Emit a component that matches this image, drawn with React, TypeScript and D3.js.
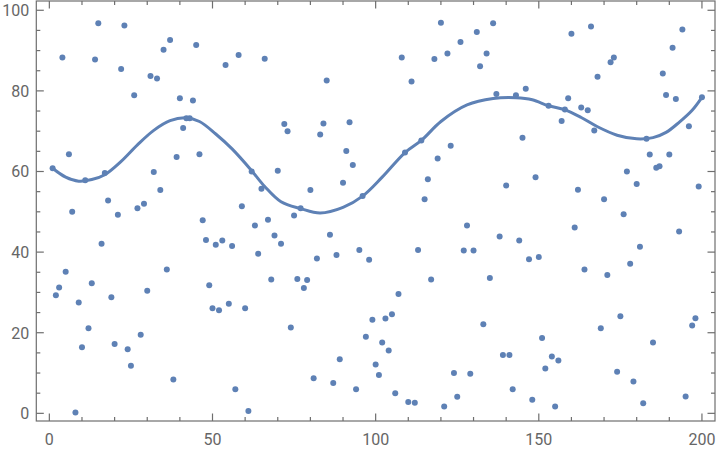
import { useEffect, useRef } from 'react';
import * as d3 from 'd3';

// y value of each sample, x runs 1..200
const pointY = [
  60.8, 29.3, 31.2, 88.3, 35.1, 64.3, 50.0, 0.2, 27.5, 16.4,
  57.8, 21.1, 32.3, 87.8, 96.8, 42.1, 59.6, 52.8, 28.8, 17.2,
  49.3, 85.4, 96.2, 15.9, 11.8, 78.9, 50.9, 19.5, 52.0, 30.4,
  83.7, 59.9, 83.1, 55.4, 90.2, 35.7, 92.6, 8.4, 63.6, 78.2,
  70.8, 73.2, 73.2, 77.6, 91.4, 64.3, 47.9, 43.0, 31.8, 26.1,
  41.8, 25.6, 42.9, 86.4, 27.2, 41.5, 6.0, 88.9, 51.4, 26.1,
  0.6, 60.0, 46.6, 39.6, 55.7, 88.0, 48.0, 33.2, 44.1, 60.2,
  42.1, 71.8, 70.0, 21.3, 49.1, 33.3, 50.9, 31.1, 33.1, 55.4,
  8.7, 38.4, 69.2, 71.9, 82.6, 44.3, 7.5, 39.3, 13.4, 57.2,
  65.1, 72.2, 61.6, 6.0, 40.5, 53.9, 19.0, 38.1, 23.2, 12.1,
  9.5, 17.6, 23.5, 15.6, 24.6, 5.0, 29.6, 88.3, 64.7, 2.8,
  82.3, 2.6, 40.5, 67.7, 53.1, 58.1, 33.2, 87.9, 63.2, 96.9,
  1.7, 89.3, 66.4, 10.0, 4.1, 92.1, 40.4, 46.6, 9.8, 40.4,
  94.6, 86.1, 22.1, 89.3, 33.6, 96.8, 79.2, 43.9, 14.5, 56.5,
  14.5, 6.0, 78.9, 42.9, 68.4, 80.5, 38.2, 3.4, 58.6, 38.8,
  18.7, 11.1, 76.3, 14.1, 1.7, 13.1, 72.5, 75.4, 78.2, 94.2,
  46.1, 55.5, 75.9, 35.7, 75.2, 96.0, 70.2, 83.5, 21.1, 53.1,
  34.3, 87.1, 88.3, 10.3, 24.1, 49.4, 60.0, 37.1, 7.9, 56.9,
  41.3, 2.5, 68.1, 64.2, 17.6, 60.9, 61.3, 84.3, 79.0, 64.2,
  90.7, 78.0, 45.1, 95.2, 4.2, 71.2, 21.8, 23.6, 56.3, 78.4,
];

const curveX = [1, 5, 9, 13, 17, 22, 27, 32, 37, 42, 46, 51, 56, 62, 66, 71, 77, 83, 90, 96,
  102, 109, 114, 120, 128, 136, 143, 148, 153, 158, 163, 168, 174, 180, 185, 189, 193, 197, 200];
const curveY = [60.8, 58.6, 57.6, 58.0, 59.2, 62.5, 66.6, 70.2, 72.6, 73.3, 72.4, 69.3, 65.6, 60.2,
  56.3, 52.5, 50.8, 49.7, 51.1, 53.9, 58.6, 64.7, 67.7, 72.4, 76.5, 78.1, 78.3, 77.8, 76.3, 75.3,
  73.4, 71.1, 69.0, 68.1, 68.4, 69.7, 72.2, 75.2, 78.4];

const xTicks = [0, 50, 100, 150, 200];
const yTicks = [0, 20, 40, 60, 80, 100];

const width = 720;
const height = 452;
const color = '#5e81b5';
const frameColor = '#6e6e6e';

export default function App() {
  const svgRef = useRef<SVGSVGElement>(null);

  useEffect(() => {
    if (!svgRef.current) return;
    const svg = d3.select(svgRef.current);
    svg.selectAll('*').remove();

    const left = 36.3, right = 715, top = 1, bottom = 421;
    const x = d3.scaleLinear().domain([-4, 204]).range([left, right]);
    const y = d3.scaleLinear().domain([-1.9, 102.3]).range([bottom, top]);

    const xMinor = d3.range(0, 201, 10).filter(v => !xTicks.includes(v));
    const yMinor = d3.range(0, 101, 5).filter(v => !yTicks.includes(v));

    const frame = svg.append('g')
      .attr('stroke', frameColor)
      .attr('stroke-width', 1.2)
      .attr('fill', 'none');

    frame.append('rect')
      .attr('x', left)
      .attr('y', top)
      .attr('width', right - left)
      .attr('height', bottom - top);

    // ticks on all four sides, pointing inwards
    const addXTicks = (vals: number[], len: number) => {
      vals.forEach(v => {
        frame.append('line').attr('x1', x(v)).attr('x2', x(v)).attr('y1', bottom).attr('y2', bottom - len);
        frame.append('line').attr('x1', x(v)).attr('x2', x(v)).attr('y1', top).attr('y2', top + len);
      });
    };
    const addYTicks = (vals: number[], len: number) => {
      vals.forEach(v => {
        frame.append('line').attr('y1', y(v)).attr('y2', y(v)).attr('x1', left).attr('x2', left + len);
        frame.append('line').attr('y1', y(v)).attr('y2', y(v)).attr('x1', right).attr('x2', right - len);
      });
    };
    addXTicks(xTicks, 7.5);
    addXTicks(xMinor, 4);
    addYTicks(yTicks, 7.5);
    addYTicks(yMinor, 4);

    const labels = svg.append('g')
      .attr('fill', '#666')
      .attr('font-family', 'Roboto, sans-serif')
      .attr('font-size', 16);

    labels.selectAll('.xl')
      .data(xTicks)
      .enter().append('text')
      .attr('x', d => x(d))
      .attr('y', 445)
      .attr('text-anchor', 'middle')
      .text(d => d);

    labels.selectAll('.yl')
      .data(yTicks)
      .enter().append('text')
      .attr('x', left - 7)
      .attr('y', d => y(d) + 5.8)
      .attr('text-anchor', 'end')
      .text(d => d);

    // points
    svg.append('g')
      .selectAll('circle')
      .data(pointY)
      .enter().append('circle')
      .attr('cx', (d, i) => x(i + 1))
      .attr('cy', d => y(d))
      .attr('r', 3)
      .attr('fill', color);

    // fitted curve
    const line = d3.line<number>()
      .x((d, i) => x(curveX[i]))
      .y(d => y(d))
      .curve(d3.curveCatmullRom);

    svg.append('path')
      .datum(curveY)
      .attr('fill', 'none')
      .attr('stroke', color)
      .attr('stroke-width', 3)
      .attr('stroke-linecap', 'round')
      .attr('d', line);
  }, []);

  return (
    <svg
      ref={svgRef}
      width={width}
      height={height}
      style={{ position: 'absolute', left: 0, top: 0, background: '#fff' }}
    />
  );
}
